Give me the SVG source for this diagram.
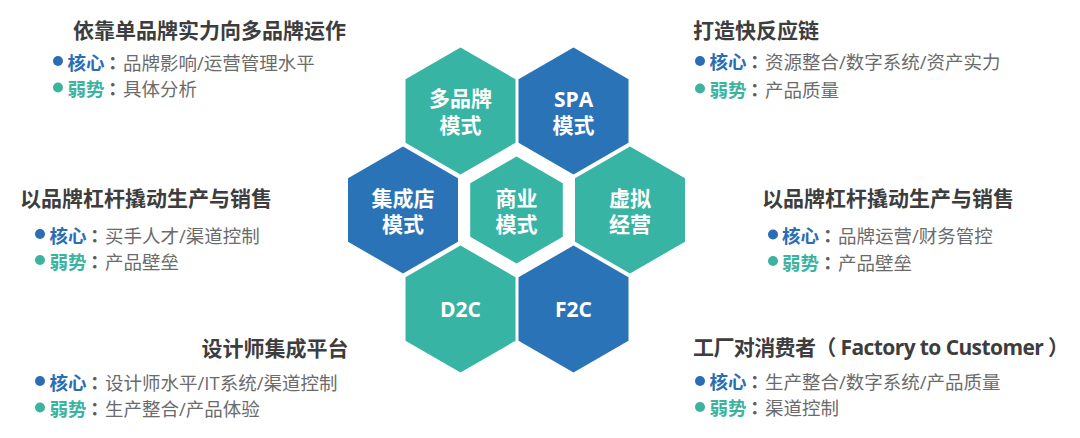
<svg xmlns="http://www.w3.org/2000/svg" xmlns:xlink="http://www.w3.org/1999/xlink" width="1080" height="438" viewBox="0 0 1080 438">
<defs>
<style>
text{font-family:'Open Sans','Noto Sans CJK SC',sans-serif}
.title{font-size:21px;font-weight:700;fill:#3d3d3d}
.line{font-size:18.5px}
.kb{font-weight:700;fill:#2a6db5}
.kg{font-weight:700;fill:#3bb3a0}
.colon{font-weight:700;fill:#5c5c5c;font-family:'Noto Sans CJK JP',sans-serif}
.body{font-weight:400;fill:#6b6b6b}
.dotb{fill:#2a6db5}
.dotg{fill:#3bb3a0}
.teal{fill:#37b4a4}
.blue{fill:#2a73b6}
.hx{font-size:21px;font-weight:700;fill:#ffffff;text-anchor:middle}
</style>
<polygon id="hexL" points="0,-63.5 55,-31.75 55,31.75 0,63.5 -55,31.75 -55,-31.75"/>
<polygon id="hexS" points="0,-53.5 46.3,-26.75 46.3,26.75 0,53.5 -46.3,26.75 -46.3,-26.75"/>
</defs>
<rect width="1080" height="438" fill="#ffffff"/>

<g id="connectors"></g>

<g id="hex-duopinpai">
<use xlink:href="#hexL" href="#hexL" x="460.5" y="111" class="teal"/>
<text class="hx" x="460.5" y="106">多品牌</text>
<text class="hx" x="460.5" y="133">模式</text>
</g>
<g id="hex-spa">
<use xlink:href="#hexL" href="#hexL" x="573.5" y="111" class="blue"/>
<text class="hx" x="573.5" y="107">SPA</text>
<text class="hx" x="573.5" y="133">模式</text>
</g>
<g id="hex-jichengdian">
<use xlink:href="#hexL" href="#hexL" x="403" y="210" class="blue"/>
<text class="hx" x="403" y="206">集成店</text>
<text class="hx" x="403" y="232">模式</text>
</g>
<g id="hex-shangye">
<use xlink:href="#hexS" href="#hexS" x="516.5" y="210" class="teal"/>
<text class="hx" x="516.5" y="206">商业</text>
<text class="hx" x="516.5" y="232">模式</text>
</g>
<g id="hex-xuni">
<use xlink:href="#hexL" href="#hexL" x="630" y="210" class="teal"/>
<text class="hx" x="630" y="206">虚拟</text>
<text class="hx" x="630" y="232">经营</text>
</g>
<g id="hex-d2c">
<use xlink:href="#hexL" href="#hexL" x="460.5" y="309" class="teal"/>
<text class="hx" x="460.5" y="316.5">D2C</text>
</g>
<g id="hex-f2c">
<use xlink:href="#hexL" href="#hexL" x="573.5" y="309" class="blue"/>
<text class="hx" x="573.5" y="316.5">F2C</text>
</g>

<g id="block-tl">
<text class="title" x="73" y="37.5">依靠单品牌实力向多品牌运作</text>
<circle class="dotb" cx="58" cy="61" r="5"/>
<text class="line" y="69.5"><tspan class="kb" x="67.5">核心</tspan><tspan class="colon" x="103.5">：</tspan><tspan class="body" x="123">品牌影响/运营管理水平</tspan></text>
<circle class="dotg" cx="58" cy="87.5" r="5"/>
<text class="line" y="96"><tspan class="kg" x="67.5">弱势</tspan><tspan class="colon" x="103.5">：</tspan><tspan class="body" x="123">具体分析</tspan></text>
</g>

<g id="block-ml">
<text class="title" x="20" y="205.5">以品牌杠杆撬动生产与销售</text>
<circle class="dotb" cx="40" cy="234" r="5"/>
<text class="line" y="242.5"><tspan class="kb" x="49.5">核心</tspan><tspan class="colon" x="85.5">：</tspan><tspan class="body" x="105">买手人才/渠道控制</tspan></text>
<circle class="dotg" cx="40" cy="260" r="5"/>
<text class="line" y="268.5"><tspan class="kg" x="49.5">弱势</tspan><tspan class="colon" x="85.5">：</tspan><tspan class="body" x="105">产品壁垒</tspan></text>
</g>

<g id="block-bl">
<text class="title" x="201.5" y="356">设计师集成平台</text>
<circle class="dotb" cx="40" cy="381" r="5"/>
<text class="line" y="389.5"><tspan class="kb" x="49.5">核心</tspan><tspan class="colon" x="85.5">：</tspan><tspan class="body" x="105">设计师水平/IT系统/渠道控制</tspan></text>
<circle class="dotg" cx="40" cy="407.5" r="5"/>
<text class="line" y="416"><tspan class="kg" x="49.5">弱势</tspan><tspan class="colon" x="85.5">：</tspan><tspan class="body" x="105">生产整合/产品体验</tspan></text>
</g>

<g id="block-tr">
<text class="title" x="693" y="37.5">打造快反应链</text>
<circle class="dotb" cx="700" cy="61" r="5"/>
<text class="line" y="69"><tspan class="kb" x="709.5">核心</tspan><tspan class="colon" x="745.5">：</tspan><tspan class="body" x="765">资源整合/数字系统/资产实力</tspan></text>
<circle class="dotg" cx="700" cy="88.5" r="5"/>
<text class="line" y="96.5"><tspan class="kg" x="709.5">弱势</tspan><tspan class="colon" x="745.5">：</tspan><tspan class="body" x="765">产品质量</tspan></text>
</g>

<g id="block-mr">
<text class="title" x="762" y="205.5">以品牌杠杆撬动生产与销售</text>
<circle class="dotb" cx="773" cy="234.5" r="5"/>
<text class="line" y="243"><tspan class="kb" x="782">核心</tspan><tspan class="colon" x="818.5">：</tspan><tspan class="body" x="838">品牌运营/财务管控</tspan></text>
<circle class="dotg" cx="773" cy="261" r="5"/>
<text class="line" y="269.5"><tspan class="kg" x="782">弱势</tspan><tspan class="colon" x="818.5">：</tspan><tspan class="body" x="838">产品壁垒</tspan></text>
</g>

<g id="block-br">
<text class="title" x="693" y="355" textLength="376" lengthAdjust="spacing">工厂对消费者（ Factory to Customer ）</text>
<circle class="dotb" cx="700" cy="381" r="5"/>
<text class="line" y="388.5"><tspan class="kb" x="709.5">核心</tspan><tspan class="colon" x="745.5">：</tspan><tspan class="body" x="765">生产整合/数字系统/产品质量</tspan></text>
<circle class="dotg" cx="700" cy="407" r="5"/>
<text class="line" y="415"><tspan class="kg" x="709.5">弱势</tspan><tspan class="colon" x="745.5">：</tspan><tspan class="body" x="765">渠道控制</tspan></text>
</g>
</svg>
